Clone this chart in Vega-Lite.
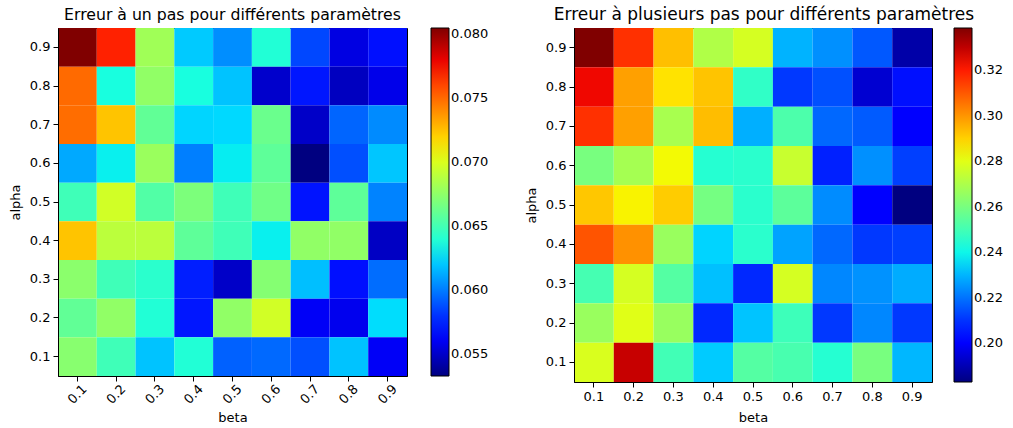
{
  "$schema": "https://vega.github.io/schema/vega-lite/v6.json",
  "padding": {"left": 8, "top": 5, "right": 0, "bottom": 0},
  "background": "white",
  "spacing": 34,
  "config": {
    "font": "DejaVu Sans",
    "view": {"stroke": "black", "strokeWidth": 1},
    "axis": {"domainColor": "black", "tickColor": "black", "labelColor": "black", "titleColor": "black", "labelFontSize": 13, "titleFontSize": 13, "titleFontWeight": "normal", "tickSize": 5, "grid": false, "labelFont": "DejaVu Sans", "titleFont": "DejaVu Sans"},
    "legend": {"labelFontSize": 13, "labelColor": "black", "labelFont": "DejaVu Sans", "padding": 0, "labelOverlap": false, "gradientStrokeColor": "black", "gradientStrokeWidth": 1, "gradientThickness": 18, "labelOffset": 8},
    "title": {"fontSize": 15.7, "fontWeight": "normal", "color": "black", "font": "DejaVu Sans", "anchor": "middle", "offset": 4}
  },
  "resolve": {"scale": {"color": "independent"}, "legend": {"color": "independent"}},
  "datasets": {
    "one": [
      {"alpha": 0.9, "beta": 0.1, "v": 0.0805}, {"alpha": 0.9, "beta": 0.2, "v": 0.0771}, {"alpha": 0.9, "beta": 0.3, "v": 0.0681}, {"alpha": 0.9, "beta": 0.4, "v": 0.0621}, {"alpha": 0.9, "beta": 0.5, "v": 0.0605}, {"alpha": 0.9, "beta": 0.6, "v": 0.0639}, {"alpha": 0.9, "beta": 0.7, "v": 0.0586}, {"alpha": 0.9, "beta": 0.8, "v": 0.0556}, {"alpha": 0.9, "beta": 0.9, "v": 0.0571},
      {"alpha": 0.8, "beta": 0.1, "v": 0.0750}, {"alpha": 0.8, "beta": 0.2, "v": 0.0636}, {"alpha": 0.8, "beta": 0.3, "v": 0.0676}, {"alpha": 0.8, "beta": 0.4, "v": 0.0636}, {"alpha": 0.8, "beta": 0.5, "v": 0.0619}, {"alpha": 0.8, "beta": 0.6, "v": 0.0551}, {"alpha": 0.8, "beta": 0.7, "v": 0.0573}, {"alpha": 0.8, "beta": 0.8, "v": 0.0548}, {"alpha": 0.8, "beta": 0.9, "v": 0.0558},
      {"alpha": 0.7, "beta": 0.1, "v": 0.0749}, {"alpha": 0.7, "beta": 0.2, "v": 0.0724}, {"alpha": 0.7, "beta": 0.3, "v": 0.0660}, {"alpha": 0.7, "beta": 0.4, "v": 0.0624}, {"alpha": 0.7, "beta": 0.5, "v": 0.0625}, {"alpha": 0.7, "beta": 0.6, "v": 0.0663}, {"alpha": 0.7, "beta": 0.7, "v": 0.0550}, {"alpha": 0.7, "beta": 0.8, "v": 0.0594}, {"alpha": 0.7, "beta": 0.9, "v": 0.0604},
      {"alpha": 0.6, "beta": 0.1, "v": 0.0612}, {"alpha": 0.6, "beta": 0.2, "v": 0.0631}, {"alpha": 0.6, "beta": 0.3, "v": 0.0679}, {"alpha": 0.6, "beta": 0.4, "v": 0.0601}, {"alpha": 0.6, "beta": 0.5, "v": 0.0630}, {"alpha": 0.6, "beta": 0.6, "v": 0.0659}, {"alpha": 0.6, "beta": 0.7, "v": 0.0533}, {"alpha": 0.6, "beta": 0.8, "v": 0.0588}, {"alpha": 0.6, "beta": 0.9, "v": 0.0620},
      {"alpha": 0.5, "beta": 0.1, "v": 0.0649}, {"alpha": 0.5, "beta": 0.2, "v": 0.0697}, {"alpha": 0.5, "beta": 0.3, "v": 0.0655}, {"alpha": 0.5, "beta": 0.4, "v": 0.0669}, {"alpha": 0.5, "beta": 0.5, "v": 0.0649}, {"alpha": 0.5, "beta": 0.6, "v": 0.0665}, {"alpha": 0.5, "beta": 0.7, "v": 0.0572}, {"alpha": 0.5, "beta": 0.8, "v": 0.0659}, {"alpha": 0.5, "beta": 0.9, "v": 0.0602},
      {"alpha": 0.4, "beta": 0.1, "v": 0.0724}, {"alpha": 0.4, "beta": 0.2, "v": 0.0690}, {"alpha": 0.4, "beta": 0.3, "v": 0.0690}, {"alpha": 0.4, "beta": 0.4, "v": 0.0659}, {"alpha": 0.4, "beta": 0.5, "v": 0.0649}, {"alpha": 0.4, "beta": 0.6, "v": 0.0631}, {"alpha": 0.4, "beta": 0.7, "v": 0.0676}, {"alpha": 0.4, "beta": 0.8, "v": 0.0676}, {"alpha": 0.4, "beta": 0.9, "v": 0.0549},
      {"alpha": 0.3, "beta": 0.1, "v": 0.0674}, {"alpha": 0.3, "beta": 0.2, "v": 0.0649}, {"alpha": 0.3, "beta": 0.3, "v": 0.0642}, {"alpha": 0.3, "beta": 0.4, "v": 0.0575}, {"alpha": 0.3, "beta": 0.5, "v": 0.0550}, {"alpha": 0.3, "beta": 0.6, "v": 0.0672}, {"alpha": 0.3, "beta": 0.7, "v": 0.0618}, {"alpha": 0.3, "beta": 0.8, "v": 0.0571}, {"alpha": 0.3, "beta": 0.9, "v": 0.0596},
      {"alpha": 0.2, "beta": 0.1, "v": 0.0660}, {"alpha": 0.2, "beta": 0.2, "v": 0.0676}, {"alpha": 0.2, "beta": 0.3, "v": 0.0639}, {"alpha": 0.2, "beta": 0.4, "v": 0.0573}, {"alpha": 0.2, "beta": 0.5, "v": 0.0676}, {"alpha": 0.2, "beta": 0.6, "v": 0.0697}, {"alpha": 0.2, "beta": 0.7, "v": 0.0561}, {"alpha": 0.2, "beta": 0.8, "v": 0.0559}, {"alpha": 0.2, "beta": 0.9, "v": 0.0626},
      {"alpha": 0.1, "beta": 0.1, "v": 0.0673}, {"alpha": 0.1, "beta": 0.2, "v": 0.0649}, {"alpha": 0.1, "beta": 0.3, "v": 0.0619}, {"alpha": 0.1, "beta": 0.4, "v": 0.0639}, {"alpha": 0.1, "beta": 0.5, "v": 0.0593}, {"alpha": 0.1, "beta": 0.6, "v": 0.0595}, {"alpha": 0.1, "beta": 0.7, "v": 0.0588}, {"alpha": 0.1, "beta": 0.8, "v": 0.0619}, {"alpha": 0.1, "beta": 0.9, "v": 0.0561}
    ],
    "multi": [
      {"alpha": 0.9, "beta": 0.1, "v": 0.3385}, {"alpha": 0.9, "beta": 0.2, "v": 0.3166}, {"alpha": 0.9, "beta": 0.3, "v": 0.2930}, {"alpha": 0.9, "beta": 0.4, "v": 0.2707}, {"alpha": 0.9, "beta": 0.5, "v": 0.2776}, {"alpha": 0.9, "beta": 0.6, "v": 0.2298}, {"alpha": 0.9, "beta": 0.7, "v": 0.2244}, {"alpha": 0.9, "beta": 0.8, "v": 0.2159}, {"alpha": 0.9, "beta": 0.9, "v": 0.1884},
      {"alpha": 0.8, "beta": 0.1, "v": 0.3234}, {"alpha": 0.8, "beta": 0.2, "v": 0.2981}, {"alpha": 0.8, "beta": 0.3, "v": 0.2871}, {"alpha": 0.8, "beta": 0.4, "v": 0.2922}, {"alpha": 0.8, "beta": 0.5, "v": 0.2464}, {"alpha": 0.8, "beta": 0.6, "v": 0.2110}, {"alpha": 0.8, "beta": 0.7, "v": 0.2146}, {"alpha": 0.8, "beta": 0.8, "v": 0.1939}, {"alpha": 0.8, "beta": 0.9, "v": 0.2048},
      {"alpha": 0.7, "beta": 0.1, "v": 0.3166}, {"alpha": 0.7, "beta": 0.2, "v": 0.2981}, {"alpha": 0.7, "beta": 0.3, "v": 0.2691}, {"alpha": 0.7, "beta": 0.4, "v": 0.2934}, {"alpha": 0.7, "beta": 0.5, "v": 0.2292}, {"alpha": 0.7, "beta": 0.6, "v": 0.2517}, {"alpha": 0.7, "beta": 0.7, "v": 0.2183}, {"alpha": 0.7, "beta": 0.8, "v": 0.2164}, {"alpha": 0.7, "beta": 0.9, "v": 0.2013},
      {"alpha": 0.6, "beta": 0.1, "v": 0.2601}, {"alpha": 0.6, "beta": 0.2, "v": 0.2685}, {"alpha": 0.6, "beta": 0.3, "v": 0.2833}, {"alpha": 0.6, "beta": 0.4, "v": 0.2443}, {"alpha": 0.6, "beta": 0.5, "v": 0.2452}, {"alpha": 0.6, "beta": 0.6, "v": 0.2752}, {"alpha": 0.6, "beta": 0.7, "v": 0.2073}, {"alpha": 0.6, "beta": 0.8, "v": 0.2244}, {"alpha": 0.6, "beta": 0.9, "v": 0.2121},
      {"alpha": 0.5, "beta": 0.1, "v": 0.2917}, {"alpha": 0.5, "beta": 0.2, "v": 0.2844}, {"alpha": 0.5, "beta": 0.3, "v": 0.2909}, {"alpha": 0.5, "beta": 0.4, "v": 0.2594}, {"alpha": 0.5, "beta": 0.5, "v": 0.2452}, {"alpha": 0.5, "beta": 0.6, "v": 0.2548}, {"alpha": 0.5, "beta": 0.7, "v": 0.2238}, {"alpha": 0.5, "beta": 0.8, "v": 0.2010}, {"alpha": 0.5, "beta": 0.9, "v": 0.1830},
      {"alpha": 0.4, "beta": 0.1, "v": 0.3107}, {"alpha": 0.4, "beta": 0.2, "v": 0.3007}, {"alpha": 0.4, "beta": 0.3, "v": 0.2662}, {"alpha": 0.4, "beta": 0.4, "v": 0.2348}, {"alpha": 0.4, "beta": 0.5, "v": 0.2452}, {"alpha": 0.4, "beta": 0.6, "v": 0.2273}, {"alpha": 0.4, "beta": 0.7, "v": 0.2183}, {"alpha": 0.4, "beta": 0.8, "v": 0.2110}, {"alpha": 0.4, "beta": 0.9, "v": 0.2121},
      {"alpha": 0.3, "beta": 0.1, "v": 0.2503}, {"alpha": 0.3, "beta": 0.2, "v": 0.2776}, {"alpha": 0.3, "beta": 0.3, "v": 0.2533}, {"alpha": 0.3, "beta": 0.4, "v": 0.2317}, {"alpha": 0.3, "beta": 0.5, "v": 0.2085}, {"alpha": 0.3, "beta": 0.6, "v": 0.2776}, {"alpha": 0.3, "beta": 0.7, "v": 0.2231}, {"alpha": 0.3, "beta": 0.8, "v": 0.2248}, {"alpha": 0.3, "beta": 0.9, "v": 0.2287},
      {"alpha": 0.2, "beta": 0.1, "v": 0.2662}, {"alpha": 0.2, "beta": 0.2, "v": 0.2797}, {"alpha": 0.2, "beta": 0.3, "v": 0.2660}, {"alpha": 0.2, "beta": 0.4, "v": 0.2085}, {"alpha": 0.2, "beta": 0.5, "v": 0.2323}, {"alpha": 0.2, "beta": 0.6, "v": 0.2488}, {"alpha": 0.2, "beta": 0.7, "v": 0.2110}, {"alpha": 0.2, "beta": 0.8, "v": 0.2231}, {"alpha": 0.2, "beta": 0.9, "v": 0.2110},
      {"alpha": 0.1, "beta": 0.1, "v": 0.2783}, {"alpha": 0.1, "beta": 0.2, "v": 0.3289}, {"alpha": 0.1, "beta": 0.3, "v": 0.2496}, {"alpha": 0.1, "beta": 0.4, "v": 0.2335}, {"alpha": 0.1, "beta": 0.5, "v": 0.2533}, {"alpha": 0.1, "beta": 0.6, "v": 0.2510}, {"alpha": 0.1, "beta": 0.7, "v": 0.2443}, {"alpha": 0.1, "beta": 0.8, "v": 0.2601}, {"alpha": 0.1, "beta": 0.9, "v": 0.2304}
    ]
  },
  "hconcat": [
    {
      "title": {"text": "Erreur à un pas pour différents paramètres", "anchor": "middle"},
      "width": 349,
      "height": 348,
      "data": {"name": "one"},
      "mark": {"type": "rect"},
      "encoding": {
        "x": {"field": "beta", "type": "ordinal", "title": "beta", "axis": {"labelAngle": -45, "labelAlign": "center", "labelBaseline": "middle", "labelPadding": 13, "titlePadding": 5}},
        "y": {"field": "alpha", "type": "ordinal", "sort": "descending", "title": "alpha", "axis": {"labelAngle": 0, "labelPadding": 3, "titlePadding": 7}},
        "color": {
          "field": "v", "type": "quantitative",
          "scale": {"type": "linear", "interpolate": "rgb",
            "domain": [0.0533, 0.056292, 0.0567, 0.062548, 0.06282, 0.0635, 0.070708, 0.07098, 0.071252, 0.077508, 0.078052, 0.0805],
            "range": ["#000080", "#0000ff", "#0000ff", "#00dbff", "#00e6f7", "#15ffe2", "#efff08", "#f7f500", "#ffec00", "#ff1300", "#e80000", "#800000"]},
          "legend": {"title": null, "values": [0.055, 0.06, 0.065, 0.07, 0.075, 0.08], "format": ".3f", "gradientLength": 348, "offset": 24, "direction": "vertical", "orient": "right"}
        }
      }
    },
    {
      "title": {"text": "Erreur à plusieurs pas pour différents paramètres", "anchor": "middle", "fontSize": 17, "dx": 11},
      "width": 358,
      "height": 354,
      "data": {"name": "multi"},
      "mark": {"type": "rect"},
      "encoding": {
        "x": {"field": "beta", "type": "ordinal", "title": "beta", "axis": {"labelAngle": 0, "labelPadding": 3, "titlePadding": 8}},
        "y": {"field": "alpha", "type": "ordinal", "sort": "descending", "title": "alpha", "axis": {"labelAngle": 0, "labelPadding": 3, "titlePadding": 7}},
        "color": {
          "field": "v", "type": "quantitative",
          "scale": {"type": "linear", "interpolate": "rgb",
            "domain": [0.183, 0.200105, 0.202438, 0.23587, 0.237425, 0.241313, 0.28252, 0.284075, 0.28563, 0.321395, 0.32451, 0.3385],
            "range": ["#000080", "#0000ff", "#0000ff", "#00dbff", "#00e6f7", "#15ffe2", "#efff08", "#f7f500", "#ffec00", "#ff1300", "#e80000", "#800000"]},
          "legend": {"title": null, "values": [0.2, 0.22, 0.24, 0.26, 0.28, 0.3, 0.32], "format": ".2f", "gradientLength": 354, "offset": 22, "direction": "vertical", "orient": "right"}
        }
      }
    }
  ]
}
